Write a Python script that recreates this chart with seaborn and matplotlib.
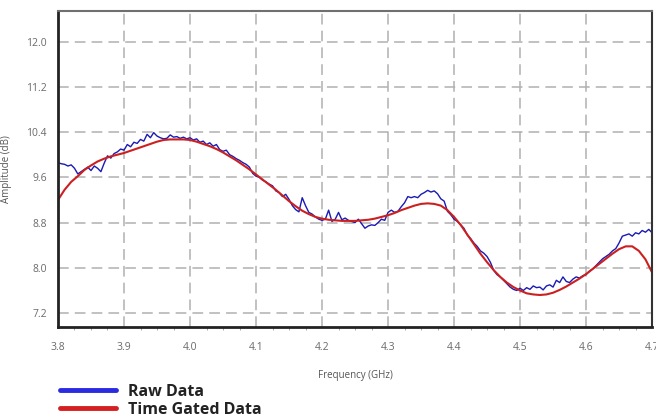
import numpy as np
import pandas as pd
import matplotlib
matplotlib.use('Agg')
import matplotlib.pyplot as plt
from matplotlib.ticker import MultipleLocator
from matplotlib.lines import Line2D
import seaborn as sns

sns.set_theme(style="whitegrid")
plt.rcParams['font.family'] = ['Open Sans', 'DejaVu Sans']

BLUE = '#1a1ab4'; RED = '#cc2020'
LEG_BLUE = '#2a2ae0'; LEG_RED = '#d42020'
GRID = '#b0b0b0'; TXT = '#6a6a6a'

# raw measurement, 0.005 GHz step from 3.80 to 4.70
raw_freq = np.round(np.arange(3.80, 4.7001, 0.005), 3)
raw_amp = [
    9.86, 9.84, 9.83, 9.80, 9.82, 9.76, 9.66, 9.70, 9.74, 9.78,
    9.72, 9.80, 9.76, 9.70, 9.85, 9.98, 9.94, 10.02, 10.05, 10.10,
    10.08, 10.18, 10.14, 10.22, 10.20, 10.27, 10.24, 10.36, 10.30, 10.39,
    10.33, 10.30, 10.28, 10.29, 10.35, 10.31, 10.32, 10.29, 10.31, 10.28,
    10.30, 10.26, 10.28, 10.22, 10.24, 10.18, 10.21, 10.15, 10.18, 10.09,
    10.06, 10.08, 10.00, 9.97, 9.93, 9.90, 9.86, 9.83, 9.78, 9.67,
    9.62, 9.60, 9.55, 9.52, 9.48, 9.45, 9.36, 9.33, 9.26, 9.30,
    9.21, 9.10, 9.03, 8.99, 9.24, 9.10, 8.98, 8.95, 8.90, 8.86,
    8.84, 8.86, 9.02, 8.82, 8.86, 8.98, 8.85, 8.88, 8.84, 8.82,
    8.80, 8.86, 8.78, 8.70, 8.74, 8.76, 8.75, 8.80, 8.86, 8.84,
    8.98, 9.02, 8.98, 9.00, 9.08, 9.15, 9.26, 9.24, 9.26, 9.24,
    9.30, 9.33, 9.37, 9.34, 9.36, 9.31, 9.22, 9.18, 9.00, 8.94,
    8.86, 8.82, 8.76, 8.70, 8.58, 8.52, 8.44, 8.38, 8.30, 8.26,
    8.20, 8.10, 7.96, 7.88, 7.84, 7.78, 7.72, 7.66, 7.62, 7.60,
    7.64, 7.60, 7.65, 7.62, 7.68, 7.65, 7.66, 7.61, 7.68, 7.70,
    7.66, 7.78, 7.74, 7.84, 7.76, 7.74, 7.80, 7.84, 7.82, 7.86,
    7.88, 7.94, 7.98, 8.04, 8.10, 8.16, 8.20, 8.24, 8.30, 8.34,
    8.44, 8.56, 8.58, 8.60, 8.56, 8.62, 8.60, 8.66, 8.63, 8.68,
    8.62,
]

# time gated, 0.01 GHz step
gated_freq = np.round(np.arange(3.80, 4.7001, 0.01), 2)
gated_amp = [
    9.20, 9.38, 9.52, 9.62, 9.73, 9.81, 9.88, 9.93, 9.97, 10.00,
    10.03, 10.07, 10.11, 10.15, 10.19, 10.23, 10.26, 10.27, 10.27, 10.27,
    10.26, 10.23, 10.19, 10.15, 10.10, 10.04, 9.97, 9.90, 9.82, 9.74,
    9.65, 9.56, 9.47, 9.38, 9.28, 9.18, 9.09, 9.01, 8.95, 8.90,
    8.87, 8.85, 8.84, 8.83, 8.83, 8.83, 8.84, 8.85, 8.87, 8.90,
    8.93, 8.97, 9.02, 9.06, 9.10, 9.13, 9.14, 9.13, 9.10, 9.02,
    8.90, 8.76, 8.59, 8.42, 8.25, 8.10, 7.96, 7.84, 7.74, 7.66,
    7.60, 7.55, 7.53, 7.52, 7.53, 7.56, 7.61, 7.67, 7.74, 7.81,
    7.89, 7.98, 8.07, 8.16, 8.25, 8.33, 8.38, 8.38, 8.30, 8.15,
    7.92,
]

raw = pd.DataFrame({'freq': raw_freq, 'amp': raw_amp})
gated = pd.DataFrame({'freq': gated_freq, 'amp': gated_amp})

fig = plt.figure(figsize=(6.56, 4.15), dpi=100)
ax = fig.add_axes([0.0884, 0.2128, 0.9056, 0.7607])
ax.set_facecolor('white')

sns.lineplot(data=raw, x='freq', y='amp', ax=ax, color=BLUE, lw=1.0)
sns.lineplot(data=gated, x='freq', y='amp', ax=ax, color=RED, lw=1.5)

ax.set_xlim(3.8, 4.7)
ax.set_ylim(6.96, 12.54)
ax.xaxis.set_major_locator(MultipleLocator(0.1))
ax.xaxis.set_minor_locator(MultipleLocator(0.025))
ax.set_yticks([7.2, 8.0, 8.8, 9.6, 10.4, 11.2, 12.0])
ax.xaxis.set_major_formatter(plt.FuncFormatter(lambda v, p: f'{v:.1f}'))
ax.yaxis.set_major_formatter(plt.FuncFormatter(lambda v, p: f'{v:.1f}'))

ax.grid(True, which='major', color=GRID, linestyle=(0, (7, 4)), lw=1.1)
ax.grid(False, which='minor')
ax.tick_params(axis='both', which='major', labelsize=7.5, labelcolor=TXT)
ax.tick_params(axis='x', which='major', length=3, width=0.8, color='#888888', direction='out', pad=8)
ax.tick_params(axis='x', which='minor', length=2, width=0.6, color='#999999', direction='out', bottom=True)
ax.tick_params(axis='y', which='major', length=0, pad=8)

ax.set_xlabel('Frequency (GHz)', fontsize=7, color='#555555', labelpad=12)
ax.set_ylabel('Amplitude (dB)', fontsize=7, color='#555555', labelpad=10)

for s in ['left', 'bottom']:
    ax.spines[s].set_color('#222222'); ax.spines[s].set_linewidth(2)
ax.spines['top'].set_color('#707070'); ax.spines['top'].set_linewidth(1.5)
ax.spines['right'].set_color('#333333'); ax.spines['right'].set_linewidth(1.5)

handles = [Line2D([0], [0], color=LEG_BLUE, lw=3.5),
           Line2D([0], [0], color=LEG_RED, lw=3.5)]
leg = fig.legend(handles, ['Raw Data', 'Time Gated Data'], loc='upper left',
                 bbox_to_anchor=(0.080, 0.095), bbox_transform=fig.transFigure,
                 frameon=False, handlelength=3.5, handletextpad=0.75,
                 labelspacing=0.15, borderpad=0,
                 prop={'weight': 'bold', 'size': 11.5})
for t in leg.get_texts():
    t.set_color('#222222')

plt.savefig('out.png', dpi=100, facecolor='white')
